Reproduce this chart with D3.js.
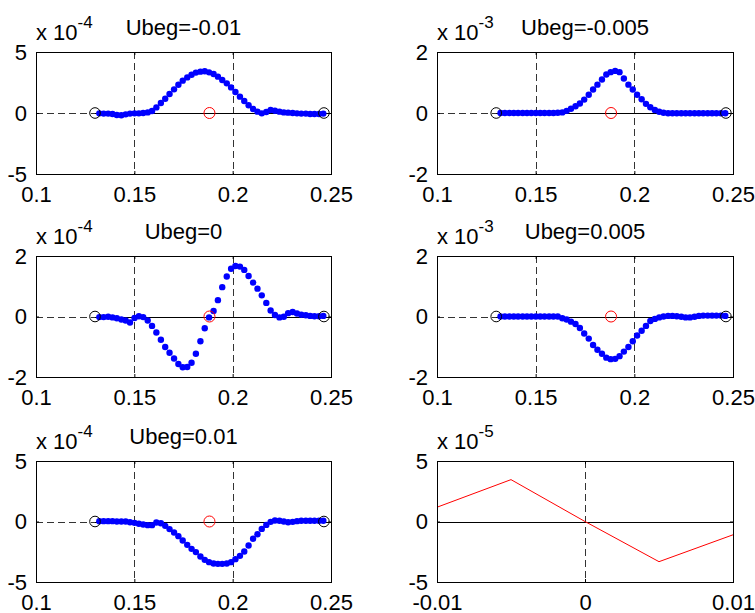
<!DOCTYPE html>
<html>
<head>
<meta charset="utf-8">
<script src="https://cdn.jsdelivr.net/npm/d3@7"></script>
<style>
  body { margin: 0; background: #fff; }
  svg { display: block; }
  text { font-family: "Liberation Sans", Arial, sans-serif; fill: #000; }
</style>
</head>
<body>
<svg id="fig" width="755" height="613"></svg>
<script>
// Sample positions along the profile (same grid for all five Ubeg runs)
const xGrid = [
  0.1322, 0.1344, 0.1367, 0.1389, 0.1411, 0.1434, 0.1456, 0.1478, 0.1501, 0.1523,
  0.1545, 0.1568, 0.1590, 0.1612, 0.1635, 0.1657, 0.1679, 0.1702, 0.1724, 0.1746,
  0.1769, 0.1791, 0.1813, 0.1836, 0.1858, 0.1880, 0.1903, 0.1925, 0.1947, 0.1970,
  0.1992, 0.2014, 0.2037, 0.2059, 0.2081, 0.2104, 0.2126, 0.2148, 0.2171, 0.2193,
  0.2215, 0.2238, 0.2260, 0.2282, 0.2305, 0.2327, 0.2349, 0.2372, 0.2394, 0.2416,
  0.2439, 0.2461
];

// Ubeg = -0.01   (units of 1e-4)
const ubegM010 = [
  -0.03, -0.05, -0.05, -0.08, -0.16, -0.19, -0.11, -0.05, -0.03, -0.03,
   0.00,  0.05,  0.16,  0.46,  0.82,  1.17,  1.56,  1.94,  2.32,  2.65,
   2.92,  3.14,  3.31,  3.39,  3.42,  3.33,  3.20,  2.98,  2.70,  2.43,
   2.10,  1.72,  1.34,  0.98,  0.63,  0.33,  0.11, -0.03,  0.08,  0.25,
   0.19,  0.11,  0.05,  0.03,  0.00, -0.03, -0.05, -0.05, -0.08, -0.08,
  -0.08, -0.05
];
// Ubeg = -0.005  (units of 1e-3)
const ubegM005 = [
   0.00,  0.00,  0.00,  0.00,  0.00,  0.00,  0.00,  0.00,  0.00,  0.00,
   0.00,  0.00,  0.00,  0.01,  0.02,  0.07,  0.14,  0.22,  0.31,  0.44,
   0.60,  0.77,  0.93,  1.10,  1.26,  1.34,  1.38,  1.34,  1.13,  0.93,
   0.77,  0.60,  0.45,  0.30,  0.19,  0.10,  0.04,  0.01, -0.01, -0.01,
  -0.01, -0.01, -0.01, -0.01, -0.01, -0.01, -0.01, -0.01, -0.01, -0.01,
  -0.01, -0.01
];
// Ubeg = 0       (units of 1e-4)
const ubeg0 = [
  -0.02, -0.02, -0.01, -0.03, -0.06, -0.10, -0.13, -0.20, -0.05,  0.01,
  -0.02, -0.13, -0.31, -0.53, -0.77, -1.01, -1.20, -1.39, -1.57, -1.68,
  -1.67, -1.53, -1.23, -0.82, -0.39, -0.03,  0.18,  0.54,  0.97,  1.32,
   1.58,  1.67,  1.65,  1.54,  1.34,  1.12,  0.92,  0.70,  0.45,  0.20,
   0.05, -0.03, -0.01,  0.11,  0.15,  0.10,  0.06,  0.04,  0.02,  0.01,
   0.01,  0.02
];
// Ubeg = 0.005   (units of 1e-3)
const ubegP005 = [
   0.00,  0.00,  0.00,  0.00,  0.00,  0.00,  0.00,  0.00,  0.00,  0.00,
   0.00,  0.00,  0.00,  0.00, -0.06, -0.10, -0.17, -0.25, -0.38, -0.56,
  -0.73, -0.94, -1.10, -1.23, -1.36, -1.41, -1.40, -1.31, -1.16, -1.01,
  -0.82, -0.63, -0.47, -0.31, -0.15, -0.08, -0.03,  0.00,  0.02,  0.02,
   0.01, -0.01, -0.03, -0.03, -0.01,  0.02,  0.03,  0.03,  0.03,  0.03,
   0.03,  0.02
];
// Ubeg = 0.01    (units of 1e-4)
const ubegP010 = [
   0.03,  0.03,  0.03,  0.03,  0.00,  0.00,  0.00, -0.06, -0.11, -0.19,
  -0.25, -0.30, -0.30, -0.08, -0.14, -0.36, -0.63, -0.91, -1.21, -1.57,
  -1.93, -2.26, -2.53, -2.89, -3.17, -3.36, -3.47, -3.50, -3.50, -3.47,
  -3.36, -3.11, -2.84, -2.48, -1.98, -1.43, -1.05, -0.61, -0.28, -0.03,
   0.08,  0.06,  0.00, -0.06, -0.03,  0.03,  0.06,  0.06,  0.06,  0.06,
   0.06,  0.06
];

// Residual against Ubeg (units of 1e-5)
const ubegLevels = [-0.01, -0.005, 0, 0.005, 0.01];
const residual = [1.18, 3.46, 0, -3.32, -1.10];

const profileSeries = [ubegM010, ubegM005, ubeg0, ubegP005, ubegP010];
const panelTitles = ["Ubeg=-0.01", "Ubeg=-0.005", "Ubeg=0", "Ubeg=0.005", "Ubeg=0.01", ""];
const exponents = ["-4", "-3", "-4", "-3", "-4", "-5"];
const yLimits = [5, 2, 2, 2, 5, 5];
const xTicksProfile = [0.1, 0.15, 0.2, 0.25];
const xTicksResidual = [-0.01, 0, 0.01];
const guideProfile = [0.15, 0.2];
const guideResidual = [0];
const endPoints = [0.13, 0.2464];
const midPoint = [0.1882];

// ---- layout ----
const colX = [[36, 331], [437, 733]];
const rowY = [[52, 174], [256, 377], [461, 582]];
const FS = 22;

const svg = d3.select("#fig");

function crisp(v) { return Math.round(v) + 0.5; }

function drawPanel(i) {
  const [x0, x1] = colX[i % 2];
  const [y0, y1] = rowY[Math.floor(i / 2)];
  const isResidual = i === 5;
  const L = yLimits[i];

  const xs = d3.scaleLinear()
    .domain(isResidual ? [-0.01, 0.01] : [0.1, 0.25])
    .range([x0, x1]);
  const ys = d3.scaleLinear().domain([-L, L]).range([y1, y0]);

  const g = svg.append("g");

  // dashed guides
  const guides = isResidual ? guideResidual : guideProfile;
  g.selectAll("line.vguide").data(guides).join("line")
    .attr("x1", d => crisp(xs(d))).attr("x2", d => crisp(xs(d)))
    .attr("y1", y0).attr("y2", y1)
    .attr("stroke", "#333").attr("stroke-width", 1)
    .attr("stroke-dasharray", "7,4");

  // zero line
  g.append("line")
    .attr("x1", x0).attr("x2", x1)
    .attr("y1", crisp(ys(0))).attr("y2", crisp(ys(0)))
    .attr("stroke", "#333").attr("stroke-width", 1)
    .attr("stroke-dasharray", "7,4");

  if (isResidual) {
    g.append("line")
      .attr("x1", x0).attr("x2", x1)
      .attr("y1", crisp(ys(0))).attr("y2", crisp(ys(0)))
      .attr("stroke", "#000").attr("stroke-width", 1);
    const line = d3.line().x((d, j) => xs(ubegLevels[j])).y(d => ys(d));
    g.append("path").datum(residual)
      .attr("d", line)
      .attr("fill", "none").attr("stroke", "#ff0000").attr("stroke-width", 1);
  } else {
    g.append("line")
      .attr("x1", xs(endPoints[0])).attr("x2", x1)
      .attr("y1", crisp(ys(0))).attr("y2", crisp(ys(0)))
      .attr("stroke", "#000").attr("stroke-width", 1);

    const vals = profileSeries[i];
    g.selectAll("circle.dot").data(vals).join("circle")
      .attr("cx", (d, j) => xs(xGrid[j]))
      .attr("cy", d => ys(d))
      .attr("r", 3.2)
      .attr("fill", "#0000ff");

    g.selectAll("circle.end").data(endPoints).join("circle")
      .attr("cx", d => xs(d)).attr("cy", ys(0)).attr("r", 5.3)
      .attr("fill", "none").attr("stroke", "#000").attr("stroke-width", 1);

    g.selectAll("circle.mid").data(midPoint).join("circle")
      .attr("cx", d => xs(d)).attr("cy", ys(0)).attr("r", 5.5)
      .attr("fill", "none").attr("stroke", "#ff0000").attr("stroke-width", 1);
  }

  // box
  g.append("rect")
    .attr("x", x0 + 0.5).attr("y", y0 + 0.5)
    .attr("width", x1 - x0).attr("height", y1 - y0)
    .attr("fill", "none").attr("stroke", "#000").attr("stroke-width", 1);

  const xt = isResidual ? xTicksResidual : xTicksProfile;
  const yt = [-L, 0, L];

  const styleAxis = sel => {
    sel.select(".domain").remove();
    sel.selectAll("line").attr("stroke", "#000");
    sel.selectAll("text").attr("font-size", FS).attr("font-family", null).attr("fill", "#000");
    sel.attr("font-size", null).attr("font-family", null);
  };

  g.append("g").attr("transform", `translate(0,${y1})`)
    .call(d3.axisBottom(xs).tickValues(xt).tickSize(-3).tickPadding(12).tickFormat(d => String(d)))
    .call(styleAxis);
  g.append("g").attr("transform", `translate(0,${y0})`)
    .call(d3.axisTop(xs).tickValues(xt).tickSize(-3).tickFormat(() => ""))
    .call(styleAxis);
  g.append("g").attr("transform", `translate(${x0},0)`)
    .call(d3.axisLeft(ys).tickValues(yt).tickSize(-3).tickPadding(9).tickFormat(d => String(d)))
    .call(styleAxis);
  g.append("g").attr("transform", `translate(${x1},0)`)
    .call(d3.axisRight(ys).tickValues(yt).tickSize(-3).tickFormat(() => ""))
    .call(styleAxis);

  // exponent label
  const ex = g.append("text").attr("x", x0).attr("y", y0 - 12).attr("font-size", FS);
  ex.append("tspan").text("x 10");
  ex.append("tspan").attr("dy", -12).attr("font-size", 17).text(exponents[i]);

  // title
  if (panelTitles[i]) {
    g.append("text")
      .attr("x", (x0 + x1) / 2).attr("y", y0 - 17.5)
      .attr("text-anchor", "middle").attr("font-size", FS)
      .text(panelTitles[i]);
  }
}

for (let i = 0; i < 6; i++) drawPanel(i);
</script>
</body>
</html>
